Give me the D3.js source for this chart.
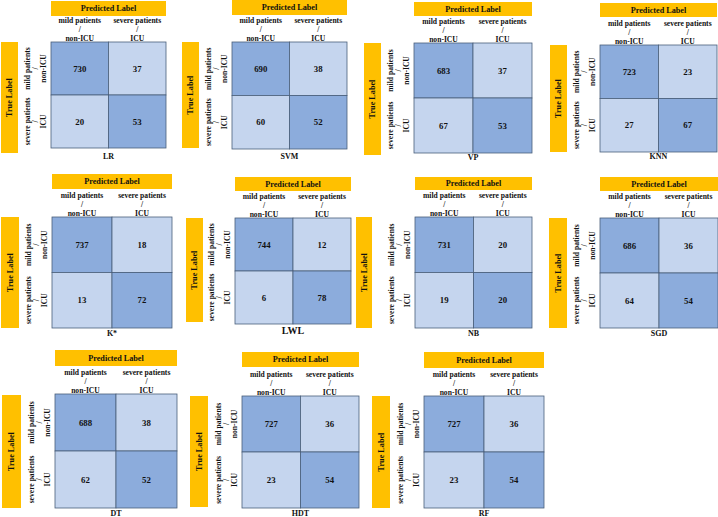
<!DOCTYPE html>
<html>
<head>
<meta charset="utf-8">
<script src="https://cdn.jsdelivr.net/npm/d3@7"></script>
<style>
  html, body { margin: 0; padding: 0; background: #fff; }
  svg text { font-family: "Liberation Serif", "Times New Roman", serif; font-weight: bold; fill: #111; }
</style>
</head>
<body>
<svg id="chart" width="718" height="517"></svg>
<script>
// ---- data ----
const models = ["LR", "SVM", "VP", "KNN", "K*", "LWL", "NB", "SGD", "DT", "HDT", "RF"];
const classes = ["mild", "severe"];
const predLabelLines = [["mild patients", "/", "non-ICU"], ["severe patients", "/", "ICU"]];
const trueLabelLines = [["mild patients", "/", "non-ICU"], ["severe patients", "/", "ICU"]];
// rows = true label, cols = predicted label
const mildAsMild     = [730, 690, 683, 723, 737, 744, 731, 686, 688, 727, 727];
const mildAsSevere   = [37, 38, 37, 23, 18, 12, 20, 36, 38, 36, 36];
const severeAsMild   = [20, 60, 67, 27, 13, 6, 19, 64, 62, 23, 23];
const severeAsSevere = [53, 52, 53, 67, 72, 78, 20, 54, 52, 54, 54];

// ---- layout (positions only) ----
// matrix box [x0,x1,y0,y1], true-label bar x [x0,x1] & y [y0,y1], predicted bar y [y0,y1], caption y
const layout = [
  {m:[51,166,42,148],  tb:[1,18,42,153],    pb:[1,16],    cy:159, fs:8},
  {m:[232,347,42,149], tb:[182,199,42,148], pb:[0,15],    cy:159, fs:8},
  {m:[414,532,43,153], tb:[364,381,43,155], pb:[2,16],    cy:160, fs:8},
  {m:[600,717,45,152], tb:[550,567,45,152], pb:[3,17],    cy:159, fs:8},
  {m:[52,172,217,328], tb:[1,19,217,328],   pb:[174,189], cy:336, fs:8},
  {m:[235,351,218,324],tb:[186,203,218,322],pb:[177,191], cy:334, fs:10},
  {m:[415,532,217,328],tb:[356,372,217,328],pb:[177,190], cy:336, fs:8},
  {m:[600,718,218,328],tb:[549,567,218,328],pb:[177,191], cy:336, fs:8},
  {m:[55,177,394,508], tb:[2,21,395,508],   pb:[350,366], cy:516, fs:8},
  {m:[242,359,396,508],tb:[190,208,396,507],pb:[352,367], cy:516, fs:8},
  {m:[424,544,396,508],tb:[372,390,396,508],pb:[352,368], cy:516, fs:8}
];

const DARK = "#8cacdc", LIGHT = "#c5d5ee", BORDER = "#4a5f7a", ORANGE = "#ffc000";

const svg = d3.select("#chart");

models.forEach((name, i) => {
  const L = layout[i];
  const [mx0, mx1, my0, my1] = L.m;
  const x = d3.scaleBand().domain(classes).range([mx0, mx1]);
  const y = d3.scaleBand().domain(classes).range([my0, my1]);
  const cells = [
    {r: "mild", c: "mild", v: mildAsMild[i]},
    {r: "mild", c: "severe", v: mildAsSevere[i]},
    {r: "severe", c: "mild", v: severeAsMild[i]},
    {r: "severe", c: "severe", v: severeAsSevere[i]}
  ];
  const g = svg.append("g");

  // predicted label bar
  g.append("rect").attr("x", mx0).attr("y", L.pb[0])
    .attr("width", mx1 - mx0).attr("height", L.pb[1] - L.pb[0]).attr("fill", ORANGE);
  g.append("text").attr("x", (mx0 + mx1) / 2).attr("y", (L.pb[0] + L.pb[1]) / 2)
    .attr("dy", "0.35em").attr("text-anchor", "middle").attr("font-size", 8.2)
    .text("Predicted Label");

  // column labels
  classes.forEach((c, ci) => {
    const cx = x(c) + x.bandwidth() / 2;
    predLabelLines[ci].forEach((t, li) => {
      g.append("text").attr("x", cx).attr("y", my0 - 19 + li * 8.8)
        .attr("text-anchor", "middle").attr("font-size", 7.6).text(t);
    });
  });

  // true label bar
  const [tx0, tx1, ty0, ty1] = L.tb;
  g.append("rect").attr("x", tx0).attr("y", ty0)
    .attr("width", tx1 - tx0).attr("height", ty1 - ty0).attr("fill", ORANGE);
  g.append("text")
    .attr("transform", `translate(${(tx0 + tx1) / 2},${(ty0 + ty1) / 2}) rotate(-90)`)
    .attr("dy", "0.35em").attr("text-anchor", "middle").attr("font-size", 8.2)
    .text("True Label");

  // row labels (rotated)
  classes.forEach((r, ri) => {
    const cyy = y(r) + y.bandwidth() / 2;
    const rg = g.append("g").attr("transform", `translate(${mx0},${cyy}) rotate(-90)`);
    trueLabelLines[ri].forEach((t, li) => {
      rg.append("text").attr("x", 0).attr("y", -24 + li * 8.2)
        .attr("dy", "0.35em").attr("text-anchor", "middle").attr("font-size", 7.6).text(t);
    });
  });

  // cells
  g.selectAll("rect.cell").data(cells).join("rect").attr("class", "cell")
    .attr("x", d => x(d.c)).attr("y", d => y(d.r))
    .attr("width", x.bandwidth()).attr("height", y.bandwidth())
    .attr("fill", d => d.r === d.c ? DARK : LIGHT)
    .attr("stroke", BORDER).attr("stroke-width", 0.8);
  g.selectAll("text.val").data(cells).join("text").attr("class", "val")
    .attr("x", d => x(d.c) + x.bandwidth() / 2)
    .attr("y", d => y(d.r) + y.bandwidth() / 2)
    .attr("dy", "0.35em").attr("text-anchor", "middle").attr("font-size", 8.8)
    .text(d => d.v);

  // caption
  g.append("text").attr("x", (mx0 + mx1) / 2).attr("y", L.cy)
    .attr("text-anchor", "middle").attr("font-size", L.fs).text(name);
});
</script>
</body>
</html>
